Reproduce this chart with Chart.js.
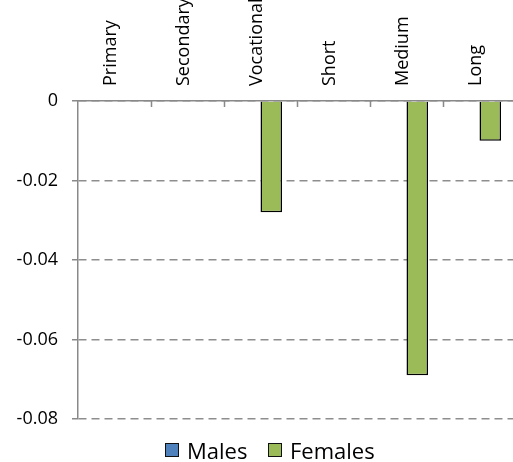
<!DOCTYPE html>
<html>
<head>
<meta charset="utf-8">
<script src="https://cdn.jsdelivr.net/npm/chart.js@4/dist/chart.umd.min.js"></script>
<style>
  html, body { margin: 0; padding: 0; background: #fff; overflow: hidden; }
  #wrap { position: relative; width: 513px; height: 462px; overflow: hidden; }
  #chart { position: absolute; left: 0; top: 0; }
  .item {
    position: absolute; top: 439px; height: 22px;
    display: flex; align-items: center; gap: 8px;
    font-family: "Open Sans", sans-serif; font-size: 22px; color: #000;
    line-height: 22px;
  }
  .swatch { width: 12px; height: 12px; border: 1.5px solid #111; }
</style>
</head>
<body>
<div id="wrap">
  <canvas id="chart" width="540" height="462"></canvas>
  <div id="legend"></div>
</div>
<script>
// Education levels shown along the top axis
const categories = ["Primary", "Secondary", "Vocational", "Short", "Medium", "Long"];
// Series values
const males   = [0, 0, 0, 0, 0, 0];
const females = [0, 0, -0.028, 0, -0.069, -0.01];
// Value axis range and step
const yMin = -0.08;
const yMax = 0;
const yStep = 0.02;

const seriesNames = ["Males", "Females"];
const seriesColors = ["#4F81BD", "#9BBB59"];
const legendLeft = [165, 268];
const axisGray = "#898989";
const gridGray = "#8e8e8e";

// Short tick marks pointing down into the plot at category boundaries
const innerTicks = {
  id: "innerTicks",
  afterDraw(chart) {
    const x = chart.scales.x;
    const ctx = chart.ctx;
    ctx.save();
    ctx.strokeStyle = axisGray;
    ctx.lineWidth = 1.5;
    ctx.beginPath();
    for (let i = 1; i < categories.length; i++) {
      const px = Math.round((x.getPixelForValue(i - 1) + x.getPixelForValue(i)) / 2) + 0.5;
      ctx.moveTo(px, x.bottom);
      ctx.lineTo(px, x.bottom + 6);
    }
    ctx.stroke();
    ctx.restore();
  }
};

const datasets = [males, females].map((data, i) => ({
  label: seriesNames[i],
  data: data,
  backgroundColor: seriesColors[i],
  borderColor: "#000",
  borderWidth: 1.5,
  borderSkipped: "start",
  categoryPercentage: 0.59,
  barPercentage: 1.0
}));

new Chart(document.getElementById("chart"), {
  type: "bar",
  data: { labels: categories, datasets: datasets },
  options: {
    responsive: false,
    animation: false,
    devicePixelRatio: 1,
    layout: { padding: { left: 0, right: 24, top: 0, bottom: 43 } },
    plugins: { legend: { display: false }, tooltip: { enabled: false } },
    scales: {
      x: {
        position: "top",
        offset: true,
        grid: { display: false, drawTicks: false },
        border: { display: true, color: axisGray, width: 1.5 },
        ticks: {
          minRotation: 90, maxRotation: 90, autoSkip: false, padding: 15,
          labelOffset: 18,
          color: "#000",
          font: { family: "Open Sans", size: 18 }
        },
        afterFit(scale) { scale.height = 101; }
      },
      y: {
        min: yMin, max: yMax,
        grid: {
          color: gridGray, lineWidth: 1.5,
          drawTicks: true, tickLength: 6, tickColor: axisGray, tickWidth: 1.5,
          tickBorderDash: []
        },
        border: { display: true, color: axisGray, width: 1.5, dash: [8, 5] },
        ticks: {
          stepSize: yStep, padding: 14, color: "#000",
          font: { family: "Open Sans", size: 18 },
          callback: v => (Math.abs(v) < 1e-9 ? "0" : String(+v.toFixed(2)))
        },
        afterFit(scale) { scale.width = 78; }
      }
    }
  },
  plugins: [innerTicks]
});

// Legend entries built from the series names and colours
const legend = document.getElementById("legend");
seriesNames.forEach((name, i) => {
  const item = document.createElement("div");
  item.className = "item";
  item.style.left = legendLeft[i] + "px";
  const sw = document.createElement("div");
  sw.className = "swatch";
  sw.style.background = seriesColors[i];
  const txt = document.createElement("span");
  txt.textContent = name;
  item.appendChild(sw);
  item.appendChild(txt);
  legend.appendChild(item);
});
</script>
</body>
</html>
